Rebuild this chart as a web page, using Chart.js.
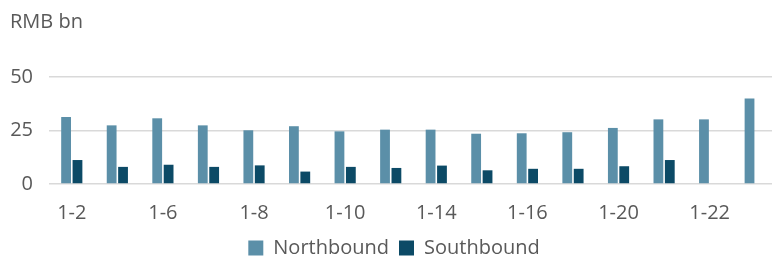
<!DOCTYPE html>
<html>
<head>
<meta charset="utf-8">
<script src="https://cdn.jsdelivr.net/npm/chart.js@4"></script>
<style>
  html, body { margin: 0; padding: 0; overflow: hidden; background: #fff; }
  #wrap { width: 778px; height: 259px; }
</style>
</head>
<body>
<div id="wrap"><canvas id="chart"></canvas></div>
<script>
// trading days, January
const dates = ["1-2", "1-3", "1-6", "1-7", "1-8", "1-9", "1-10", "1-13",
               "1-14", "1-15", "1-16", "1-17", "1-20", "1-21", "1-22", "1-23"];
const northbound = [31.3, 27.4, 30.7, 27.4, 25.1, 27.0, 24.6, 25.4,
                    25.4, 23.5, 23.7, 24.2, 26.2, 30.2, 30.2, 39.9];
const southbound = [11.2, 8.0, 9.0, 8.0, 8.7, 5.8, 8.0, 7.5,
                    8.6, 6.4, 7.1, 7.1, 8.3, 11.2, null, null];
const yTicks = [0, 25, 50];

const grey = "#595959";
const font = { family: "'Open Sans', sans-serif", size: 20, weight: "normal" };

let ctx = document.getElementById("chart").getContext("2d");
let chart = new Chart(ctx, {
  type: "bar",
  data: {
    labels: dates,
    datasets: [{
      label: "Northbound",
      data: northbound,
      backgroundColor: "#5b8fa8",
      categoryPercentage: 0.5,
      barPercentage: 0.86
    }, {
      label: "Southbound",
      data: southbound,
      backgroundColor: "#0c4a66",
      categoryPercentage: 0.5,
      barPercentage: 0.86
    }]
  },
  options: {
    responsive: true,
    maintainAspectRatio: false,
    animation: false,
    // negative bottom padding pushes the legend down into its own padding
    layout: { padding: { left: 10, top: 0, right: 0, bottom: -9 } },
    plugins: {
      title: {
        display: true,
        text: "RMB bn",
        align: "start",
        color: grey,
        font: font,
        padding: { top: 10, bottom: 43 }
      },
      legend: {
        position: "bottom",
        labels: {
          color: grey,
          font: font,
          boxWidth: 15,
          boxHeight: 15,
          padding: 10
        }
      },
      tooltip: { enabled: false }
    },
    scales: {
      x: {
        grid: { display: false },
        border: { display: false },
        afterFit: (axis) => { axis.height = 44; },
        ticks: {
          color: grey,
          font: font,
          autoSkip: false,
          maxRotation: 0,
          padding: 9,
          callback: (v, i) => i % 2 === 0 ? dates[i] : ""
        }
      },
      y: {
        min: 0,
        max: 50,
        afterBuildTicks: (axis) => { axis.ticks = yTicks.map(v => ({ value: v })); },
        afterFit: (axis) => { axis.width = 39; },
        grid: { color: "#d9d9d9", lineWidth: 1.5, drawTicks: false },
        border: { display: false },
        ticks: { color: grey, font: font, padding: 16 }
      }
    }
  }
});
</script>
</body>
</html>
